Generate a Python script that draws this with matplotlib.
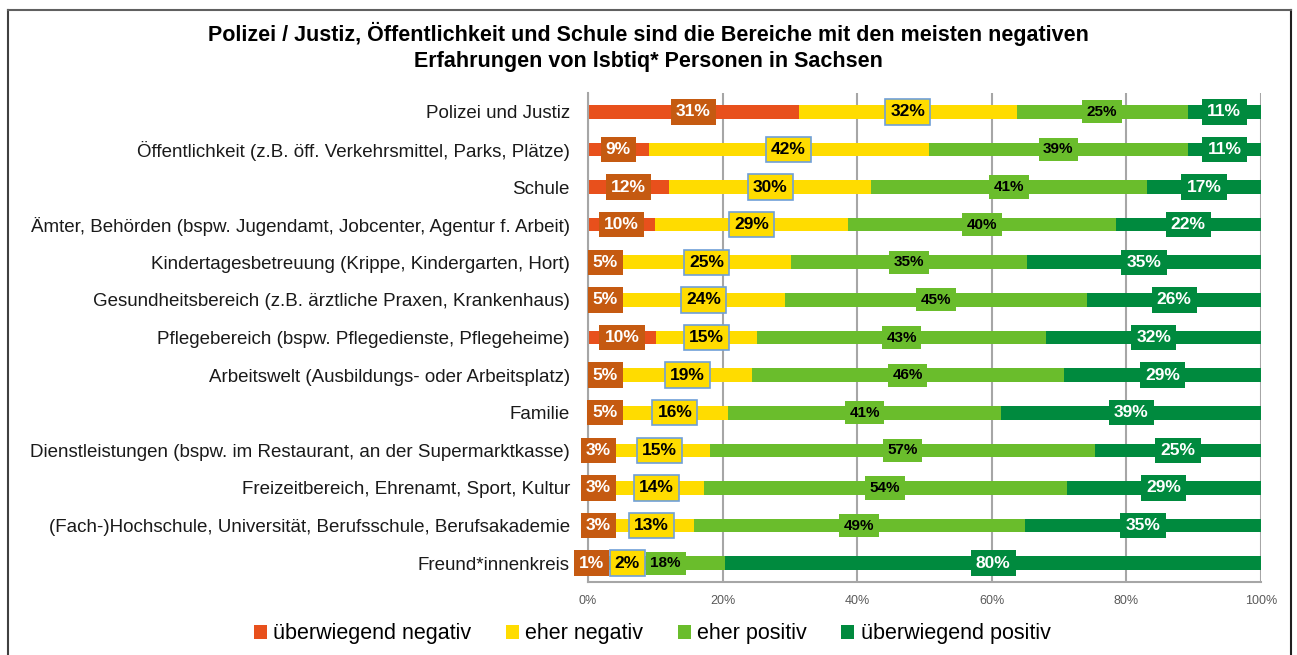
import matplotlib.pyplot as plt
import numpy as np
from matplotlib.patches import Patch
from matplotlib.lines import Line2D

plt.rcParams['font.family'] = ['Liberation Sans', 'DejaVu Sans']

categories = [
    "Polizei und Justiz",
    "Öffentlichkeit (z.B. öff. Verkehrsmittel, Parks, Plätze)",
    "Schule",
    "Ämter, Behörden (bspw. Jugendamt, Jobcenter, Agentur f. Arbeit)",
    "Kindertagesbetreuung (Krippe, Kindergarten, Hort)",
    "Gesundheitsbereich (z.B. ärztliche Praxen, Krankenhaus)",
    "Pflegebereich (bspw. Pflegedienste, Pflegeheime)",
    "Arbeitswelt (Ausbildungs- oder Arbeitsplatz)",
    "Familie",
    "Dienstleistungen (bspw. im Restaurant, an der Supermarktkasse)",
    "Freizeitbereich, Ehrenamt, Sport, Kultur",
    "(Fach-)Hochschule, Universität, Berufsschule, Berufsakademie",
    "Freund*innenkreis",
]

# Anteile in Prozent
ueberwiegend_negativ = [31.3, 9.0, 12.1, 9.9, 5.2, 5.2, 10.1, 5.2, 5.0, 3.1, 3.1, 3.1, 1.0]
eher_negativ = [32.4, 41.6, 30.0, 28.8, 24.9, 24.0, 15.0, 19.1, 15.8, 15.0, 14.1, 12.6, 1.7]
eher_positiv = [25.4, 38.6, 41.0, 39.7, 35.1, 45.0, 43.0, 46.4, 40.6, 57.2, 53.9, 49.2, 17.7]
ueberwiegend_positiv = [10.9, 10.8, 16.9, 21.6, 34.8, 25.8, 31.9, 29.3, 38.6, 24.7, 28.9, 35.1, 79.6]

series_names = ["überwiegend negativ", "eher negativ", "eher positiv", "überwiegend positiv"]
bar_colors = ["#E8501C", "#FFDC00", "#6ABD2C", "#008A3E"]
box_colors = ["#C55A11", "#FFDC00", "#6ABD2C", "#008A3E"]
box_edges = ["none", "#6F9FD8", "none", "none"]
text_colors = ["white", "black", "black", "white"]
text_sizes = [12.5, 12.5, 11, 12.5]

fig = plt.figure(figsize=(12.97, 6.55), dpi=100)
ax = fig.add_axes([588 / 1297, 73 / 655, 673 / 1297, 489 / 655])

data = [ueberwiegend_negativ, eher_negativ, eher_positiv, ueberwiegend_positiv]
y = np.arange(len(categories))
left = np.zeros(len(categories))

for i, values in enumerate(data):
    values = np.array(values)
    ax.barh(y, values, left=left, height=0.36, color=bar_colors[i], zorder=2)
    for j, v in enumerate(values):
        xc = left[j] + v / 2
        # im letzten Balken ist das 2%-Label nach rechts verschoben
        if i == 1 and j == len(categories) - 1:
            xc += 4.0
        ax.text(xc, y[j], f"{v:.0f}%", ha='center', va='center',
                fontsize=text_sizes[i], fontweight='bold', color=text_colors[i], zorder=4,
                bbox=dict(boxstyle='square,pad=0.3', facecolor=box_colors[i],
                          edgecolor=box_edges[i], linewidth=1.2))
    left += values

ax.set_xlim(0, 100)
ax.set_ylim(len(categories) - 0.5, -0.5)
ax.set_yticks(y)
ax.set_yticklabels(categories, fontsize=13.5, color='#1a1a1a')
ax.set_xticks([0, 20, 40, 60, 80, 100])
ax.set_xticklabels(["0%", "20%", "40%", "60%", "80%", "100%"], fontsize=9, color='#595959')
ax.tick_params(axis='both', length=0)
ax.tick_params(axis='y', pad=13)
ax.tick_params(axis='x', pad=9)
ax.grid(axis='x', color='#A6A6A6', linewidth=1.5, zorder=0)
for side in ['top', 'right']:
    ax.spines[side].set_visible(False)
ax.spines['left'].set_color('#A6A6A6')
ax.spines['bottom'].set_color('#A6A6A6')
ax.spines['left'].set_linewidth(1.5)
ax.spines['bottom'].set_linewidth(1.5)

fig.text(0.5, 1 - 34 / 655,
         "Polizei / Justiz, Öffentlichkeit und Schule sind die Bereiche mit den meisten negativen",
         ha='center', va='center', fontsize=15.5, fontweight='bold')
fig.text(0.5, 1 - 61 / 655, "Erfahrungen von lsbtiq* Personen in Sachsen",
         ha='center', va='center', fontsize=15.5, fontweight='bold')

handles = [Patch(facecolor=c, edgecolor='none') for c in bar_colors]
fig.legend(handles, series_names, loc='center', bbox_to_anchor=(0.503, 21 / 655), ncol=4,
           frameon=False, fontsize=15.5, handlelength=0.6, handleheight=0.6,
           handletextpad=0.3, columnspacing=1.6)

# Rahmen um die Grafik
fig.add_artist(Line2D([7.5 / 1297, 7.5 / 1297], [0, 1 - 10 / 655], color='#404040', linewidth=1.5))
fig.add_artist(Line2D([1291 / 1297, 1291 / 1297], [0, 1 - 10 / 655], color='#202020', linewidth=1.5))
fig.add_artist(Line2D([7.5 / 1297, 1291 / 1297], [1 - 10 / 655, 1 - 10 / 655], color='#606060', linewidth=1.5))

fig.savefig("out.png", dpi=100)
